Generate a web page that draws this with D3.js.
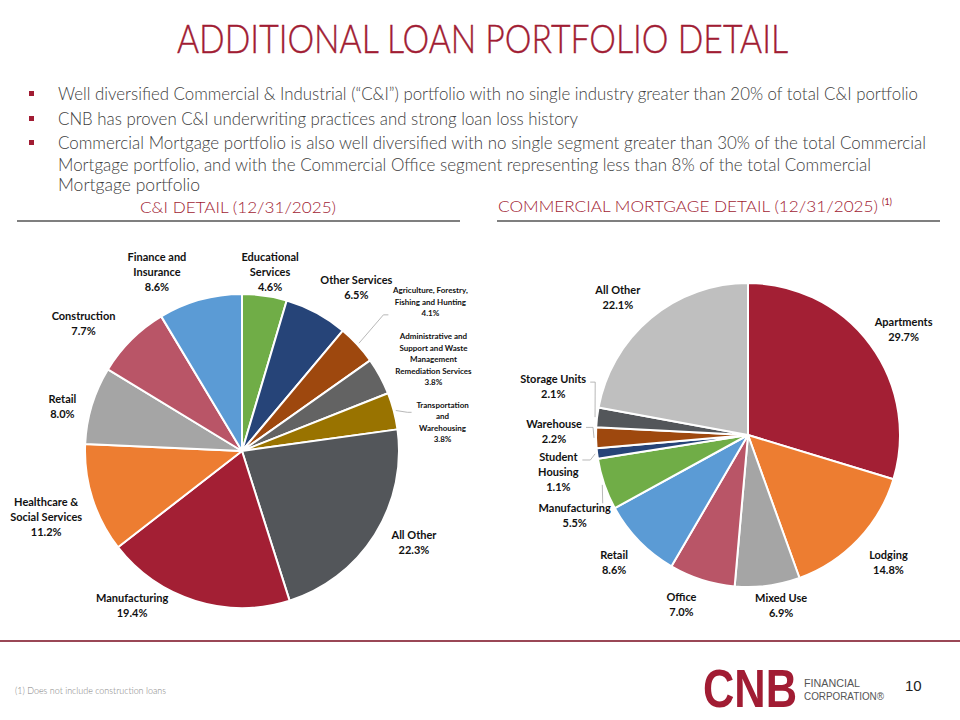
<!DOCTYPE html>
<html>
<head>
<meta charset="utf-8">
<style>
    body { margin: 0; background: #fff; }
    svg { display: block; font-family: Lato, 'Open Sans', sans-serif; }
    .lbl { font-weight: 700; fill: #111; }
</style>
</head>
<body>
<svg width="960" height="720"></svg>

<script src="https://d3js.org/d3.v7.min.js"></script>
<script>
// ---- data: C&I detail (clockwise from 12 o'clock)
let ciNames = ["Educational\nServices", "Other Services", "Agriculture, Forestry,\nFishing and Hunting",
    "Administrative and\nSupport and Waste\nManagement\nRemediation Services", "Transportation\nand\nWarehousing",
    "All Other", "Manufacturing", "Healthcare &\nSocial Services", "Retail", "Construction", "Finance and\nInsurance"]
let ciValues = [4.6, 6.5, 4.1, 3.8, 3.8, 22.3, 19.4, 11.2, 8.0, 7.7, 8.6]

// ---- data: commercial mortgage detail
let cmNames = ["Apartments", "Lodging", "Mixed Use", "Office", "Retail", "Manufacturing",
    "Student\nHousing", "Warehouse", "Storage Units", "All Other"]
let cmValues = [29.7, 14.8, 6.9, 7.0, 8.6, 5.5, 1.1, 2.2, 2.1, 22.1]

let bullets = [
    ["Well diversified Commercial & Industrial (\u201cC&I\u201d) portfolio with no single industry greater than 20% of total C&I portfolio"],
    ["CNB has proven C&I underwriting practices and strong loan loss history"],
    ["Commercial Mortgage portfolio is also well diversified with no single segment greater than 30% of the total Commercial",
     "Mortgage portfolio, and with the Commercial Office segment representing less than 8% of the total Commercial",
     "Mortgage portfolio"]
]

// ---- styles / layout
let red = "#A11C33"
let ciColors = ["#70AD47", "#264478", "#9E480E", "#636363", "#997300", "#53565A", "#A31F34", "#ED7D31", "#A5A5A5", "#B95567", "#5B9BD5"]
let cmColors = ["#A31F34", "#ED7D31", "#A5A5A5", "#B95567", "#5B9BD5", "#70AD47", "#264478", "#9E480E", "#53565A", "#BFBFBF"]

let ciLayout = {
    cx: 242, cy: 451, r: 157, lr: 195,
    nudge: [[0, 14], [22, 8], [45, -17], [20, 1], [12, 21], [7, -12], [-52, -32], [-10, 7], [7, 12], [-21, 11], [-33, 9]],
    small: [2, 3, 4],
    leaders: { 2: { end: [-42, 13], elbow: -5 }, 4: { end: [-31, -10], elbow: -4 } }
}
let cmLayout = {
    cx: 748, cy: 435, r: 152, lr: 180,
    nudge: [[11, 2], [10, 3], [10, -8], [-12, -2], [-5, 2], [-3, 22], [-11, 15], [-14, -7], [-16, -28], [-15, 1]],
    small: [],
    leaders: { 5: { end: [28, -12], elbow: 0 }, 6: { end: [24, -12], elbow: 8 }, 7: { end: [32, -4], elbow: 7 }, 8: { end: [37, -4], elbow: 5 } }
}

let svg = d3.select("svg")
let fmt = d3.format(".1f")

// title
svg.append("text")
    .attr("x", 177).attr("y", 53)
    .attr("textLength", 611).attr("lengthAdjust", "spacingAndGlyphs")
    .style("font-size", "39px").style("font-weight", 300)
    .attr("fill", red)
    .attr("stroke", red).attr("stroke-width", 0.4)
    .text("ADDITIONAL LOAN PORTFOLIO DETAIL")

// bullets
let lineY = [[100], [125], [149, 171, 191]]
let lineW = [[860], [520], [868, 813, 142]]
bullets.forEach((b, i) => {
    svg.append("rect")
        .attr("x", 29).attr("y", lineY[i][0] - 9)
        .attr("width", 5).attr("height", 5)
        .attr("fill", red)
    b.forEach((t, j) => {
        svg.append("text")
            .attr("x", 58).attr("y", lineY[i][j])
            .attr("textLength", lineW[i][j]).attr("lengthAdjust", "spacingAndGlyphs")
            .style("font-size", "17px").style("font-weight", 300)
            .attr("fill", "#404040")
            .text(t)
    })
})

// section headers
svg.append("text")
    .attr("x", 140).attr("y", 213)
    .attr("textLength", 196).attr("lengthAdjust", "spacingAndGlyphs")
    .style("font-size", "16px").style("font-weight", 300).attr("fill", red)
    .text("C&I DETAIL (12/31/2025)")
svg.append("text")
    .attr("x", 498).attr("y", 212)
    .attr("textLength", 380).attr("lengthAdjust", "spacingAndGlyphs")
    .style("font-size", "16px").style("font-weight", 300).attr("fill", red)
    .text("COMMERCIAL MORTGAGE DETAIL (12/31/2025)")
svg.append("text")
    .attr("x", 882).attr("y", 205)
    .style("font-size", "9px").attr("fill", red)
    .text("(1)")

svg.append("line").attr("x1", 17).attr("x2", 460).attr("y1", 221).attr("y2", 221)
    .attr("stroke", "#7F7F7F").attr("stroke-width", 2)
svg.append("line").attr("x1", 497).attr("x2", 940).attr("y1", 221).attr("y2", 221)
    .attr("stroke", "#7F7F7F").attr("stroke-width", 2)

// pies
function drawPie(names, values, colors, L) {
    let data = names.map((n, i) => ({ name: n, v: values[i], color: colors[i], i: i }))
    let pie = d3.pie().sort(null).value(d => d.v)
    let arcs = pie(data)
    let arc = d3.arc().innerRadius(0).outerRadius(L.r)
    let polar = (a, R) => [L.cx + R * Math.sin(a), L.cy - R * Math.cos(a)]

    let g = svg.append("g")
    g.append("g")
        .attr("transform", `translate(${L.cx},${L.cy})`)
        .selectAll("path")
        .data(arcs)
        .join("path")
        .attr("d", arc)
        .attr("fill", d => d.data.color)
        .attr("stroke", "#fff")
        .attr("stroke-width", 2)
        .attr("stroke-linejoin", "round")

    arcs.forEach(d => {
        let mid = (d.startAngle + d.endAngle) / 2
        let p = polar(mid, L.lr)
        let ax = p[0] + L.nudge[d.data.i][0]
        let ay = p[1] + L.nudge[d.data.i][1]
        let small = L.small.includes(d.data.i)
        let fs = small ? 8 : 11
        let lh = small ? 11.5 : 15
        let lines = d.data.name.split("\n").concat([fmt(d.data.v) + "%"])

        let t = g.append("text")
            .attr("class", "lbl")
            .attr("text-anchor", "middle")
            .style("font-size", fs + "px")
        lines.forEach((s, k) => {
            t.append("tspan")
                .attr("x", ax)
                .attr("y", ay - (lines.length - 1) * lh / 2 + k * lh + fs * 0.36)
                .text(s)
        })

        let ld = L.leaders[d.data.i]
        if (ld) {
            let s0 = polar(mid, L.r + 2)
            let e = [ax + ld.end[0], ay + ld.end[1]]
            let el = [e[0] + ld.elbow, e[1]]
            g.append("path")
                .attr("d", d3.line()([e, el, s0]))
                .attr("fill", "none")
                .attr("stroke", "#A6A6A6")
                .attr("stroke-width", 0.8)
        }
    })
}

drawPie(ciNames, ciValues, ciColors, ciLayout)
drawPie(cmNames, cmValues, cmColors, cmLayout)

// footer
svg.append("line").attr("x1", 0).attr("x2", 960).attr("y1", 641).attr("y2", 641)
    .attr("stroke", "#9A4756").attr("stroke-width", 2)

svg.append("text")
    .attr("x", 15).attr("y", 694)
    .attr("textLength", 151).attr("lengthAdjust", "spacingAndGlyphs")
    .style("font-size", "10px").style("font-weight", 300)
    .attr("fill", "#7F7F7F")
    .text("(1) Does not include construction loans")

// logo: small font stretched vertically so its box stays left of the wordmark
svg.append("text")
    .attr("transform", "translate(703,707) scale(1,1.4)")
    .attr("textLength", 94).attr("lengthAdjust", "spacingAndGlyphs")
    .style("font-family", "'Liberation Sans', Arial, sans-serif")
    .style("font-size", "39px").style("font-weight", 700)
    .attr("fill", red)
    .text("CNB")
svg.append("text")
    .attr("x", 804).attr("y", 687)
    .style("font-family", "'Liberation Sans Narrow', 'Liberation Sans', sans-serif")
    .style("font-size", "11px").attr("fill", "#555")
    .attr("textLength", 56).attr("lengthAdjust", "spacingAndGlyphs")
    .text("FINANCIAL")
svg.append("text")
    .attr("x", 804).attr("y", 700)
    .style("font-family", "'Liberation Sans Narrow', 'Liberation Sans', sans-serif")
    .style("font-size", "11px").attr("fill", "#555")
    .attr("textLength", 80).attr("lengthAdjust", "spacingAndGlyphs")
    .text("CORPORATION\u00ae")

svg.append("text")
    .attr("x", 905).attr("y", 691)
    .style("font-family", "'Liberation Sans', Arial, sans-serif")
    .style("font-size", "15px").attr("fill", "#222")
    .text("10")
</script>
</body>
</html>
